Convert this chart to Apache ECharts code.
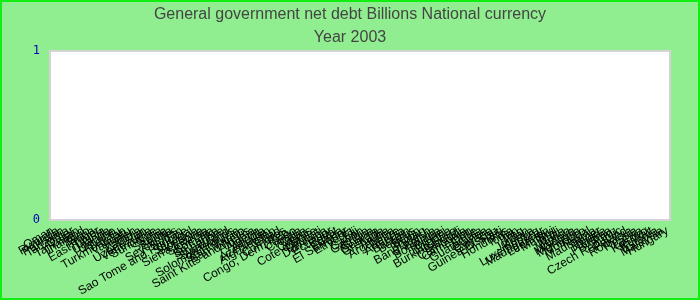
<!DOCTYPE html>
<html>
<head>
<meta charset="utf-8">
<script src="https://cdn.jsdelivr.net/npm/echarts@6/dist/echarts.min.js"></script>
<style>
html,body{margin:0;padding:0;background:#90EE90;}
#wrap{width:700px;height:300px;box-sizing:border-box;border:2px solid #11ee11;background:#90EE90;}
#chart{width:696px;height:296px;}
</style>
</head>
<body>
<div id="wrap"><div id="chart"></div></div>
<script>
const categories = ["Oman","Rwanda","Pakistan","Tanzania","Qatar","Tajikistan","Thailand","Togo","Tonga","East Timor",
"Tunisia","Uganda","Ukraine","Tuvalu","Turkmenistan","Vanuatu","Yemen","Zambia","Uzbekistan","Venezuela",
"Suriname","Syria","Samoa","Serbia","Seychelles","Sudan","Sao Tome and Principe","Senegal","Slovakia","Sierra Leone",
"Slovenia","Somalia","Sri Lanka","Singapore","Swaziland","Solomon Islands","Saint Lucia","San Marino","Saint Kitts and Nevis","Albania",
"Algeria","Angola","Azerbaijan","Afghanistan","Chad","Comoros","Congo, Dem. Rep.","Congo","Croatia","Cuba",
"Cyprus","Cote d'Ivoire","Djibouti","Dominica","Ecuador","Egypt","Eritrea","El Salvador","Ethiopia","Fiji",
"Gabon","Gambia","Ghana","Georgia","Grenada","Aruba","Argentina","Belize","Armenia","Bahrain",
"Belarus","Benin","Bhutan","Bangladesh","Bolivia","Botswana","Brunei","Bulgaria","Burkina Faso","Burundi",
"Cambodia","Cameroon","Chile","Guatemala","Guinea","Guyana","Guinea-Bissau","Haiti","Honduras","India",
"Iran","Iraq","Jordan","Kenya","Luxembourg","Madagascar","Lebanon","Malawi","Mali","Malta",
"Mexico","Moldova","Mongolia","Morocco","Nepal","Mauritania","Niger","Nigeria","Panama","Peru",
"Czech Republic","Poland","Romania","Russia","Latvia","Kosovo","Kuwait","Estonia","Malaysia","Hungary"];
const values = [0,0,0,0,0,0,0,0,0,0, 0,0,0,0,0,0,0,0,0,0, 0,0,0,0,0,0,0,0,0,0, 0,0,0,0,0,0,0,0,0,0,
0,0,0,0,0,0,0,0,0,0, 0,0,0,0,0,0,0,0,0,0, 0,0,0,0,0,0,0,0,0,0, 0,0,0,0,0,0,0,0,0,0,
0,0,0,0,0,0,0,0,0,0, 0,0,0,0,0,0,0,0,0,0, 0,0,0,0,0,0,0,0,0,0, 0,0,0,0,0,0,0,0,0,0];
const yTicks = [0, 1];

const chart = echarts.init(document.getElementById('chart'), null, {renderer: 'canvas'});
chart.setOption({
  backgroundColor: '#90EE90',
  animation: false,
  title: {
    text: 'General government net debt Billions National currency',
    subtext: 'Year 2003',
    left: 'center',
    top: 0,
    itemGap: 7,
    textStyle: {fontFamily: 'Liberation Sans, Arial', fontSize: 16, fontWeight: 'normal', color: '#444'},
    subtextStyle: {fontFamily: 'Liberation Sans, Arial', fontSize: 16, color: '#444'}
  },
  grid: {left: 48, right: 28, top: 49, bottom: 78, containLabel: false, outerBoundsMode: 'none', show: true, backgroundColor: '#fff', borderColor: '#d4d4d4', borderWidth: 2},
  xAxis: {
    type: 'category',
    data: categories,
    axisLine: {show: false},
    axisTick: {show: false},
    axisLabel: {interval: 0, rotate: 30, fontSize: 12, color: '#000', fontFamily: 'Liberation Sans, Arial', margin: 10}
  },
  yAxis: {
    type: 'value',
    min: yTicks[0],
    max: yTicks[yTicks.length - 1],
    interval: 1,
    axisLine: {show: false},
    axisTick: {show: false},
    splitLine: {show: false},
    axisLabel: {color: '#0000bb', fontFamily: 'DejaVu Sans Mono, monospace', fontSize: 12, margin: 10}
  },
  series: [{type: 'bar', data: values, itemStyle: {color: '#4572A7'}}]
});
</script>
</body>
</html>
